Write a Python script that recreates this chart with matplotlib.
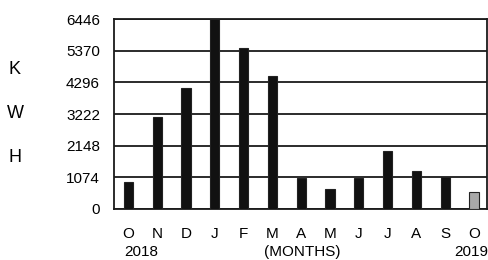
import matplotlib.pyplot as plt

plt.rcParams['font.family'] = ['Liberation Sans', 'DejaVu Sans']

# data
months = ['O', 'N', 'D', 'J', 'F', 'M', 'A', 'M', 'J', 'J', 'A', 'S', 'O']
kwh = [910, 3120, 4100, 6446, 5460, 4510, 1050, 680, 1060, 1970, 1290, 1090, 580]
yticks = [0, 1074, 2148, 3222, 4296, 5370, 6446]
bar_colors = ['#111111'] * 12 + ['#a8a8a8']

fig = plt.figure(figsize=(4.89, 2.60), dpi=100)
ax = fig.add_axes([114 / 489, 1 - 209 / 260, 373 / 489, 190 / 260])

x = range(len(months))
ax.bar(x, kwh, width=0.32, color=bar_colors, edgecolor='#222222', linewidth=0.8, zorder=3)

ax.set_ylim(0, 6446)
ax.set_xlim(-0.5, 12.45)
ax.set_yticks(yticks)
ax.set_yticklabels([str(v) for v in yticks], fontsize=11)
ax.grid(axis='y', color='#1a1a1a', linewidth=1.3, zorder=1)
ax.tick_params(axis='y', length=0, pad=10)

ax.set_xticks(list(x))
ax.set_xticklabels(months, fontsize=11)
ax.tick_params(axis='x', length=0, pad=13)

for s in ax.spines.values():
    s.set_color('#1a1a1a')
    s.set_linewidth(1.3)

# side label
for ch, yy in zip('KWH', [70, 114, 158]):
    fig.text(15 / 489, 1 - yy / 260, ch, fontsize=13, ha='center', va='center')

# years and axis name under the month letters
fig.text(124 / 489, 1 - 252 / 260, '2018', fontsize=11, ha='left', va='center')
fig.text(488 / 489, 1 - 252 / 260, '2019', fontsize=11, ha='right', va='center')
fig.text(302 / 489, 1 - 252 / 260, '(MONTHS)', fontsize=11, ha='center', va='center')

fig.savefig('out.png', dpi=100)
